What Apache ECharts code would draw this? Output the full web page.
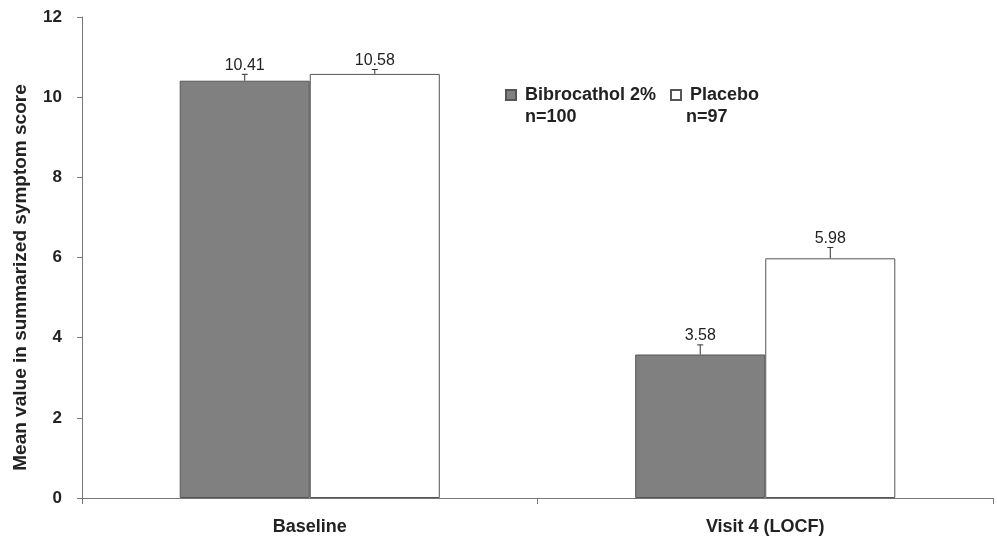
<!DOCTYPE html>
<html>
<head>
<meta charset="utf-8">
<script src="https://cdn.jsdelivr.net/npm/echarts@6/dist/echarts.min.js"></script>
<style>
  html, body { margin: 0; padding: 0; background: #fff; }
  #chart { width: 997px; height: 541px; }
</style>
</head>
<body>
<div id="chart"></div>
<script>
// Summarized symptom score by visit and treatment group
const categories = ['Baseline', 'Visit 4 (LOCF)'];
const seriesNames = ['Bibrocathol 2%', 'Placebo'];
const sampleSizes = ['n=100', 'n=97'];
const bibrocatholMean = [10.41, 3.58];
const placeboMean = [10.58, 5.98];
const bibrocatholErr = [0.16, 0.24];
const placeboErr = [0.11, 0.27];
const yTicks = [0, 2, 4, 6, 8, 10, 12];

const FONT = '"Liberation Sans", Arial, sans-serif';
const BAR_FRAC = 0.2855;

// error bar + value label, drawn above each bar
function errorSeries(name, means, errs, side) {
  const data = means.map((m, i) => [i, m, errs[i]]);
  return {
    type: 'custom',
    name: name + ' error',
    z: 5,
    data: data,
    renderItem: function (params, api) {
      const idx = api.value(0);
      const mean = api.value(1);
      const err = api.value(2);
      const band = api.size([1, 0])[0];
      const dx = side * band * BAR_FRAC / 2;
      const base = api.coord([idx, mean]);
      const top = api.coord([idx, mean + err]);
      const x = base[0] + dx;
      const cap = 3;
      return {
        type: 'group',
        children: [
          { type: 'line', shape: { x1: x, y1: base[1], x2: x, y2: top[1] },
            style: { stroke: '#333', lineWidth: 1 } },
          { type: 'line', shape: { x1: x - cap, y1: top[1], x2: x + cap, y2: top[1] },
            style: { stroke: '#333', lineWidth: 1 } },
          { type: 'text', x: x, y: top[1] - 1,
            style: { text: mean.toFixed(2), fill: '#222', font: '16px ' + FONT,
                     align: 'center', verticalAlign: 'bottom' } }
        ]
      };
    }
  };
}

const chart = echarts.init(document.getElementById('chart'));
chart.setOption({
  animation: false,
  backgroundColor: '#fff',
  grid: { left: 82, right: 4, top: 17, bottom: 43, outerBoundsMode: 'none', containLabel: false },
  legend: {
    left: 500, top: 81,
    itemWidth: 10, itemHeight: 10, itemGap: 14,
    icon: 'rect',
    textStyle: { fontFamily: FONT, fontWeight: 'bold', fontSize: 18, color: '#222', padding: [0, 0, 0, 4] },
    data: seriesNames
  },
  graphic: [
    { type: 'text', left: 525, top: 108,
      style: { text: sampleSizes[0], font: 'bold 18px ' + FONT, fill: '#222' } },
    { type: 'text', left: 686, top: 108,
      style: { text: sampleSizes[1], font: 'bold 18px ' + FONT, fill: '#222' } }
  ],
  xAxis: {
    type: 'category',
    data: categories,
    axisLine: { lineStyle: { color: '#777', width: 1 } },
    axisTick: { show: true, length: 6, lineStyle: { color: '#777' } },
    axisLabel: { fontFamily: FONT, fontWeight: 'bold', fontSize: 18, color: '#222', margin: 20 }
  },
  yAxis: {
    type: 'value',
    min: 0, max: 12, interval: 2,
    name: 'Mean value in summarized symptom score',
    nameLocation: 'middle',
    nameGap: 52,
    nameTextStyle: { fontFamily: FONT, fontWeight: 'bold', fontSize: 19, color: '#222',
                     padding: [0, 40, 0, 0] },
    splitLine: { show: false },
    axisLine: { show: true, lineStyle: { color: '#777', width: 1 } },
    axisTick: { show: true, length: 5, lineStyle: { color: '#777' } },
    axisLabel: { fontFamily: FONT, fontWeight: 'bold', fontSize: 17, color: '#222', margin: 20,
                 formatter: v => yTicks.includes(v) ? String(v) : '' }
  },
  series: [
    {
      name: seriesNames[0], type: 'bar', data: bibrocatholMean,
      barWidth: (BAR_FRAC * 100) + '%', barGap: '0%',
      itemStyle: { color: '#808080', borderColor: '#555', borderWidth: 1 }
    },
    {
      name: seriesNames[1], type: 'bar', data: placeboMean,
      barWidth: (BAR_FRAC * 100) + '%', barGap: '0%',
      itemStyle: { color: '#ffffff', borderColor: '#555', borderWidth: 1 }
    },
    errorSeries(seriesNames[0], bibrocatholMean, bibrocatholErr, -1),
    errorSeries(seriesNames[1], placeboMean, placeboErr, 1)
  ]
});
</script>
</body>
</html>
